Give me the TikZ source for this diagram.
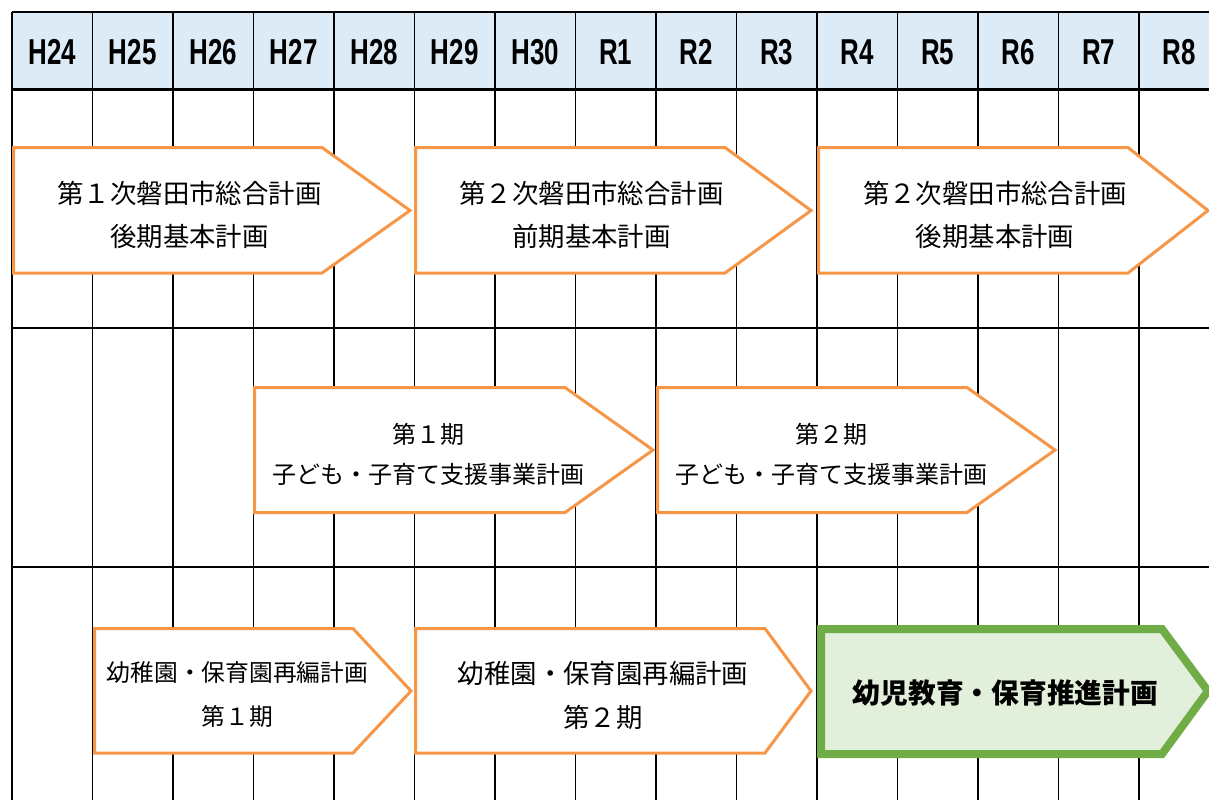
\documentclass[tikz,border=0pt]{standalone}
\usepackage{fontspec}
\newfontfamily\jp{Noto Sans CJK JP}
\newfontfamily\hdr[FakeStretch=0.72]{Liberation Sans}
\definecolor{hdrfill}{HTML}{DDEBF7}
\definecolor{arrowor}{HTML}{F79646}
\definecolor{arrowgr}{HTML}{70AD47}
\definecolor{greenfill}{HTML}{E2EFDA}
\begin{document}
\begin{tikzpicture}[x=0.75pt,y=-0.75pt,
  gridline/.style={draw=black,line width=0.8pt},
  thickline/.style={draw=black,line width=1.8pt},
  hdrtext/.style={font=\hdr\bfseries\fontsize{27}{30}\selectfont,inner sep=0pt},
  orarrow/.style={draw=arrowor,fill=white,line width=2.25pt,line join=miter},
  grarrow/.style={draw=arrowgr,fill=greenfill,line width=6pt,line join=miter},
  lblA/.style={font=\jp\fontsize{19.8}{32.25}\selectfont,align=center,inner sep=0pt},
  lblB/.style={font=\jp\fontsize{18}{30}\selectfont,align=center,inner sep=0pt},
  lblC/.style={font=\jp\fontsize{17.8}{33}\selectfont,align=center,inner sep=0pt},
  lblD/.style={font=\jp\fontsize{19.8}{33}\selectfont,align=center,inner sep=0pt},
  lblG/.style={font=\jp\bfseries\fontsize{20.8}{30}\selectfont,align=center,inner sep=0pt}]
\useasboundingbox (0,0) rectangle (1209,800);
\clip (0,0) rectangle (1209,800);
% header
\fill[hdrfill] (12,12) rectangle (1230,90);
% vertical lines
\foreach \k in {0,...,14} {
  \draw[gridline] ({12+80.5*\k},12) -- ({12+80.5*\k},800);
}
% horizontal lines
\draw[thickline] (12,12) -- (1230,12);
\draw[thickline] (12,89.5) -- (1230,89.5);
\draw[gridline] (12,328) -- (1230,328);
\draw[gridline] (12,567) -- (1230,567);
% header labels
\foreach \lab [count=\i from 0] in {H24,H25,H26,H27,H28,H29,H30,R1,R2,R3,R4,R5,R6,R7,R8} {
  \node[hdrtext] (h\i) at ({12+80.5*(\i+0.5)},52) {\lab};
}
% row 1
\draw[orarrow] (13.5,147.5) -- (322,147.5) -- (410,210.5) -- (322,273) -- (13.5,273) -- cycle;
\node[lblA] (t1) at (189.5,214.5) {第１次磐田市総合計画\\後期基本計画};
\draw[orarrow] (415.5,147.5) -- (725,147.5) -- (811,210.5) -- (725,273) -- (415.5,273) -- cycle;
\node[lblA] (t2) at (591.5,214.5) {第２次磐田市総合計画\\前期基本計画};
\draw[orarrow] (818.5,147.5) -- (1128,147.5) -- (1208,210.5) -- (1128,273) -- (818.5,273) -- cycle;
\node[lblA] (t3) at (995,214.5) {第２次磐田市総合計画\\後期基本計画};
% row 2
\draw[orarrow] (254.5,387.5) -- (565,387.5) -- (653,450) -- (565,512.5) -- (254.5,512.5) -- cycle;
\node[lblB] (t4) at (428,454) {第１期\\子ども・子育て支援事業計画};
\draw[orarrow] (657.5,387.5) -- (967,387.5) -- (1055,450) -- (967,512.5) -- (657.5,512.5) -- cycle;
\node[lblB] (t5) at (831.5,454) {第２期\\子ども・子育て支援事業計画};
% row 3
\draw[orarrow] (94.5,628.5) -- (353,628.5) -- (411,691) -- (353,753) -- (94.5,753) -- cycle;
\node[lblC] (t6) at (237.5,695) {幼稚園・保育園再編計画\\第１期};
\draw[orarrow] (415.5,628.5) -- (765,628.5) -- (811,691) -- (765,753) -- (415.5,753) -- cycle;
\node[lblD] (t7) at (603,695) {幼稚園・保育園再編計画\\第２期};
\draw[grarrow] (821,629) -- (1162,629) -- (1208,691) -- (1162,754) -- (821,754) -- cycle;
\node[lblG] (t8) at (1005.5,693) {幼児教育・保育推進計画};
\end{tikzpicture}
\end{document}
